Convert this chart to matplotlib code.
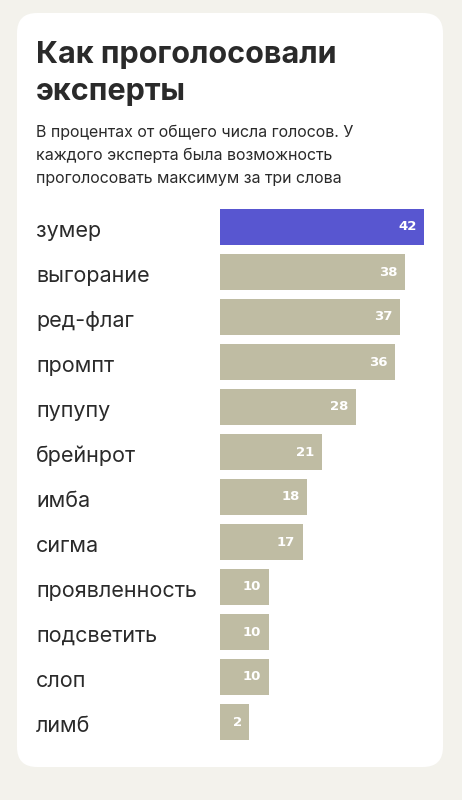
import numpy as np
import matplotlib
matplotlib.use("Agg")
import matplotlib.pyplot as plt
from matplotlib.patches import FancyBboxPatch
from matplotlib.transforms import blended_transform_factory

# --- datos ---
words = ['зумер', 'выгорание', 'ред-флаг', 'промпт', 'пупупу', 'брейнрот',
         'имба', 'сигма', 'проявленность', 'подсветить', 'слоп', 'лимб']
votes = [42, 38, 37, 36, 28, 21, 18, 17, 10, 10, 10, 2]

title = 'Как проголосовали\nэксперты'
subtitle = ['В процентах от общего числа голосов. У',
            'каждого эксперта была возможность',
            'проголосовать максимум за три слова']

# --- estilo ---
BG = '#f3f2ec'
CARD = '#ffffff'
HIGHLIGHT = '#5856d0'
BAR = '#bfbca3'
INK = '#2a2a2a'
MIN_BAR = 6  # ancho minimo visible

W, H = 462, 800
fig = plt.figure(figsize=(W / 100, H / 100), dpi=100)
fig.patch.set_facecolor(BG)


def fx(px):
    return px / W


def fy(py):
    return 1 - py / H


# tarjeta blanca con esquinas redondeadas (en pulgadas)
card = FancyBboxPatch((0.17, 0.33), 4.26, 7.54,
                      boxstyle='round,pad=0,rounding_size=0.2',
                      transform=fig.dpi_scale_trans,
                      facecolor=CARD, edgecolor='none', zorder=-5)
fig.patches.append(card)

# titulo y subtitulo
lines = title.split('\n')
fig.text(fx(36), fy(63), lines[0], fontsize=22, fontweight='bold',
         family='Inter', color=INK, va='baseline')
fig.text(fx(36), fy(100), lines[1], fontsize=22, fontweight='bold',
         family='Inter', color=INK, va='baseline')
for i, s in enumerate(subtitle):
    fig.text(fx(36), fy(136.5 + i * 23.2), s, fontsize=11.5, family='Inter',
             color=INK, va='baseline')

# barras
ax = fig.add_axes([fx(220), fy(744.5), fx(424) - fx(220), (744.5 - 204.5) / H])
ax.set_facecolor('none')
y = np.arange(len(words))
vals = np.array(votes)
colors = [HIGHLIGHT] + [BAR] * (len(words) - 1)
ax.barh(y, np.maximum(vals, MIN_BAR), height=0.8, color=colors, linewidth=0)
ax.set_xlim(0, max(votes))
ax.set_ylim(len(words) - 0.5, -0.5)
ax.axis('off')

off = 7.5 / (204 / max(votes))
for yi, v in zip(y, vals):
    ax.text(max(v, MIN_BAR) - off, yi, str(v), ha='right', va='center',
            fontsize=9.5, fontweight='bold', family='DejaVu Sans', color='white')

# etiquetas a la izquierda, alineadas por la linea base
tr = blended_transform_factory(fig.transFigure, ax.transData)
for yi, w in zip(y, words):
    ax.text(fx(36), yi + 0.215, w, transform=tr, ha='left', va='baseline',
            fontsize=15.5, family='Inter', color=INK, clip_on=False)

fig.savefig('out.png', dpi=100, facecolor=BG)
